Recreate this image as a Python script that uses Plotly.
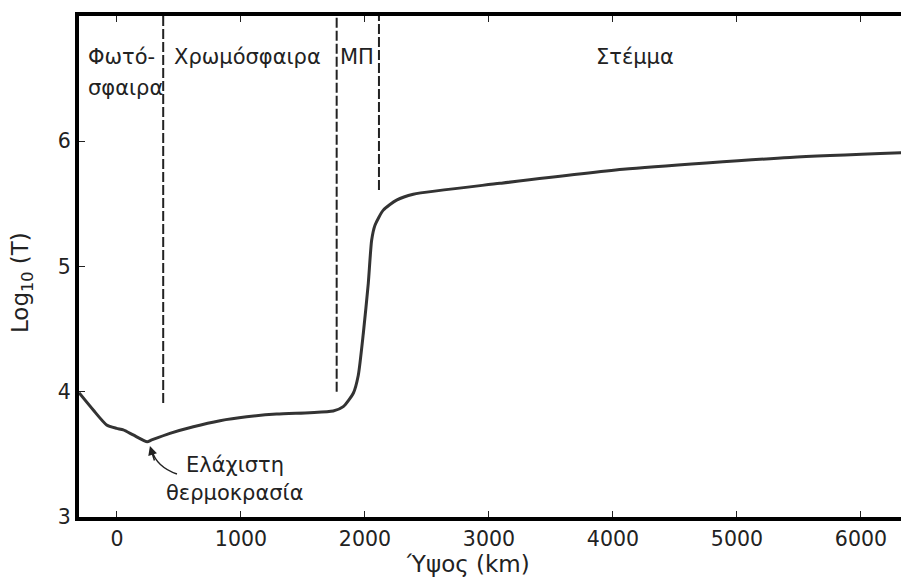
import plotly.graph_objects as go

# Temperature profile of the solar atmosphere
height_km = [-306, -191, -83, -3, 51, 131, 244, 280, 427, 616, 831, 1046, 1288, 1556,
             1744, 1825, 1906, 1946, 1987, 2027, 2054, 2081, 2148, 2255, 2390, 3089,
             4081, 5427, 6452]
log_t = [3.992, 3.854, 3.735, 3.708, 3.695, 3.655, 3.601, 3.615, 3.668, 3.721, 3.769,
         3.800, 3.822, 3.833, 3.846, 3.881, 3.988, 4.13, 4.467, 4.866, 5.21, 5.33,
         5.45, 5.53, 5.577, 5.664, 5.776, 5.870, 5.912]

# Region boundaries (dashed lines)
boundary_x = [373, 1772, 2113]
boundary_ybottom = [3.91, 4.0, 5.61]
boundary_ytop = 7

region_labels = ["Χρωμόσφαιρα", "ΜΠ", "Στέμμα"]
region_label_x = [1056, 1935, 4177]
region_label_y = 6.67

x_ticks = [0, 1000, 2000, 3000, 4000, 5000, 6000]
y_ticks = [3, 4, 5, 6, 7]

FONT = "DejaVu Sans"
FS = 20.5

fig = go.Figure()

for bx, by in zip(boundary_x, boundary_ybottom):
    fig.add_trace(go.Scatter(x=[bx, bx], y=[by, boundary_ytop], mode="lines",
                             line=dict(color="#222222", width=2, dash="10px,3px"),
                             hoverinfo="skip", showlegend=False))

fig.add_trace(go.Scatter(x=height_km, y=log_t, mode="lines",
                         line=dict(color="#333333", width=3, shape="spline", smoothing=0.6),
                         showlegend=False))

lab = dict(size=21)
ann = []
for t, x in zip(region_labels, region_label_x):
    ann.append(dict(x=x, y=region_label_y, text=t, showarrow=False, font=lab,
                    xanchor="center", yanchor="middle"))
ann.append(dict(x=-250, y=6.673, text="Φωτό-", showarrow=False, font=lab,
                xanchor="left", yanchor="middle"))
ann.append(dict(x=-250, y=6.425, text="σφαιρα", showarrow=False, font=lab,
                xanchor="left", yanchor="middle"))
ann.append(dict(x=952, y=3.415, text="Ελάχιστη", showarrow=False, font=lab,
                xanchor="center", yanchor="middle"))
ann.append(dict(x=952, y=3.19, text="θερμοκρασία", showarrow=False, font=lab,
                xanchor="center", yanchor="middle"))
# arrowhead pointing to temperature minimum
ann.append(dict(x=266, y=3.567, ax=5, ay=16, axref="pixel", ayref="pixel",
                text="", showarrow=True, arrowhead=2, arrowsize=1.2, arrowwidth=1.5,
                arrowcolor="#222222"))
# axis titles
ann.append(dict(x=0.464, y=-0.094, xref="paper", yref="paper", text="Ύψος (km)",
                font=dict(size=23), showarrow=False, xanchor="center", yanchor="middle"))
ann.append(dict(x=-0.068, y=0.467, xref="paper", yref="paper", text="Log<sub>10</sub> (T)",
                font=dict(size=23), showarrow=False, xanchor="center", yanchor="middle",
                textangle=-90))

# curved arrow shaft
fig.add_shape(type="path", path="M 484,3.343 Q 320,3.40 282,3.53",
              line=dict(color="#222222", width=1.5))

# page body has an 8px margin: compensate so the plot sits where the reference has it
fig.update_layout(
    width=909, height=578,
    margin=dict(l=71, r=0, t=8, b=69),
    paper_bgcolor="white", plot_bgcolor="white",
    font=dict(family=FONT, size=FS, color="#222222"),
    annotations=ann,
    xaxis=dict(range=[-306, 6452], tickvals=x_ticks, ticks="inside", ticklen=6,
               tickwidth=1, tickcolor="#222222", showgrid=False, zeroline=False,
               showline=True, linewidth=4, linecolor="black", mirror="ticks",
               tickfont=dict(size=FS)),
    yaxis=dict(range=[3, 7], tickvals=y_ticks, ticks="inside", ticklen=6,
               tickwidth=1, tickcolor="#222222", showgrid=False, zeroline=False,
               showline=True, linewidth=4, linecolor="black", mirror=False,
               tickfont=dict(size=FS)),
)

fig.write_html("out.html")
